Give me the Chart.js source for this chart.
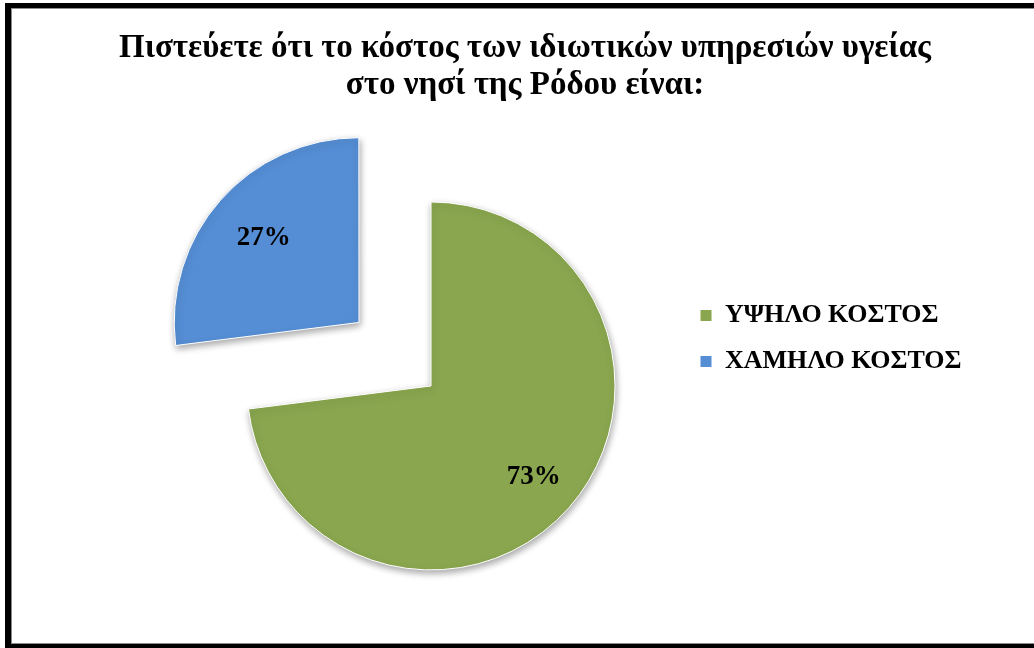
<!DOCTYPE html>
<html>
<head>
<meta charset="utf-8">
<script src="https://cdn.jsdelivr.net/npm/chart.js@4.4.1/dist/chart.umd.min.js"></script>
<style>
  html, body { margin:0; padding:0; background:#fff; }
  #wrap { position:relative; width:1034px; height:648px; overflow:hidden; }
  #box { position:absolute; left:0; top:0; width:1034px; height:648px; }
  #frame { position:absolute; left:5px; top:3px; width:1040px; height:645px; box-sizing:border-box;
           border-left:6px solid #000; border-top:5px solid #000; border-bottom:4px solid #000; pointer-events:none; }
  #frame div { position:absolute; left:0; top:0; right:0; bottom:0;
               border-left:1px solid #8c8c8c; border-top:1px solid #8c8c8c; border-bottom:1px solid #8c8c8c; }
</style>
</head>
<body>
<div id="wrap">
  <div id="box"><canvas id="chartPie"></canvas></div>
  <div id="frame"><div></div></div>
</div>
<script>
const titleLines = ["Πιστεύετε ότι το κόστος των ιδιωτικών υπηρεσιών υγείας", "στο νησί της Ρόδου είναι:"];
const labels = ["ΥΨΗΛΟ ΚΟΣΤΟΣ", "ΧΑΜΗΛΟ ΚΟΣΤΟΣ"];
const values = [73, 27];
const colors = ["#8AA74F", "#558ED5"];
const explode = [0, 384];

const SERIF = '"Liberation Serif", "Times New Roman", serif';
const LABEL_R = [0.745, 0.69];   // where the % text sits, as share of radius
const LEGEND_LEFT = 680;         // legend box left edge
const PIE_CX = 431;              // wanted pie centre x
const TITLE_CX = 525;            // wanted title centre x
let spacerWidth = 60;

// percent labels inside the slices
const pctLabels = {
  id: "pctLabels",
  afterDatasetsDraw(chart) {
    const ctx = chart.ctx;
    const meta = chart.getDatasetMeta(0);
    ctx.save();
    ctx.font = "bold 27px " + SERIF;
    ctx.fillStyle = "#000";
    ctx.textAlign = "center";
    ctx.textBaseline = "middle";
    meta.data.forEach((arc, i) => {
      const p = arc.getProps(["x", "y", "startAngle", "endAngle", "outerRadius"], true);
      const mid = (p.startAngle + p.endAngle) / 2;
      const d = (arc.options.offset || 0) / 4 + p.outerRadius * LABEL_R[i];
      ctx.fillText(values[i] + "%", p.x + Math.cos(mid) * d, p.y + Math.sin(mid) * d);
    });
    ctx.restore();
  }
};

// soft drop shadow under the slices
const sliceShadow = {
  id: "sliceShadow",
  beforeDatasetDraw(chart) {
    const ctx = chart.ctx;
    ctx.save();
    ctx.shadowColor = "rgba(0,0,0,0.35)";
    ctx.shadowBlur = 7;
    ctx.shadowOffsetX = 1;
    ctx.shadowOffsetY = 3;
  },
  afterDatasetDraw(chart) { chart.ctx.restore(); }
};

const chart = new Chart(document.getElementById("chartPie"), {
  type: "pie",
  data: {
    labels,
    datasets: [{ data: values, backgroundColor: colors, borderColor: "#ffffff", borderWidth: 1, offset: explode, radius: 184 }]
  },
  options: {
    responsive: true,
    maintainAspectRatio: false,
    animation: false,
    layout: { padding: { top: 29, bottom: 0, left: 60, right: 44 } },
    scales: {
      // invisible left box, only used to push the pie left of the title centre
      spacer: {
        type: "linear", position: "left", display: false,
        afterFit: s => { s.width = spacerWidth; }
      }
    },
    plugins: {
      title: {
        display: true, text: titleLines, color: "#000",
        font: { family: SERIF, size: 33, weight: "bold", lineHeight: 1.15 },
        padding: { top: 0, bottom: 19 }
      },
      legend: {
        position: "right",
        labels: { color: "#000", font: { family: SERIF, size: 26, weight: "bold" }, boxWidth: 12, boxHeight: 12, padding: 20 }
      },
      tooltip: { enabled: false }
    }
  },
  plugins: [sliceShadow, pctLabels]
});

// put the legend where it belongs, keep title centred and pie centred
const padR = 1034 - LEGEND_LEFT - chart.legend.width;
const padL = 2 * TITLE_CX - 1034 + padR;
chart.options.layout.padding.left = padL;
chart.options.layout.padding.right = padR;
spacerWidth = 2 * PIE_CX - LEGEND_LEFT - padL;
chart.update();
</script>
</body>
</html>
